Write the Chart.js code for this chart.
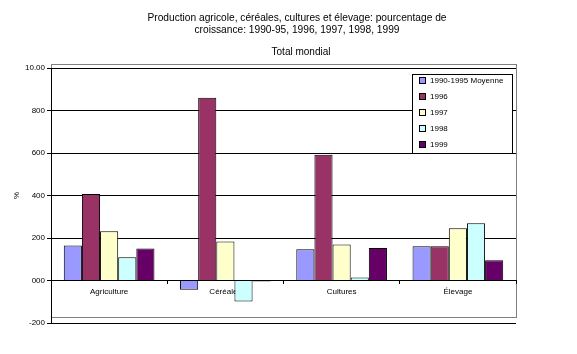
<!DOCTYPE html>
<html>
<head>
<meta charset="utf-8">
<script src="https://cdn.jsdelivr.net/npm/chart.js@4.4.0/dist/chart.umd.min.js"></script>
<style>
  html, body { margin: 0; padding: 0; background: #fff; }
  #wrap { width: 577px; height: 354px; position: relative; }
</style>
</head>
<body>
<div id="wrap"><canvas id="chart"></canvas></div>
<script>
const categories = ["Agriculture", "Céréales", "Cultures", "Élevage"];
const seriesNames = ["1990-1995 Moyenne", "1996", "1997", "1998", "1999"];
const avg9095 = [1.65, -0.43, 1.47, 1.61];
const y1996 = [4.07, 8.60, 5.92, 1.61];
const y1997 = [2.32, 1.84, 1.70, 2.46];
const y1998 = [1.10, -0.99, 0.14, 2.70];
const y1999 = [1.51, -0.05, 1.53, 0.95];
const tickValues = [-2, 0, 2, 4, 6, 8, 10];
const tickLabels = ["-200", "000", "200", "400", "600", "800", "10.00"];
const titleLines = ["Production agricole, céréales, cultures et élevage: pourcentage de",
  "croissance: 1990-95, 1996, 1997, 1998, 1999"];
const subTitle = "Total mondial";

const colors = ["#9999ff", "#993366", "#ffffcc", "#ccffff", "#660066"];
const values = [avg9095, y1996, y1997, y1998, y1999];
const font = "Liberation Sans, Arial, sans-serif";

// titles, grey frame and the boxed legend drawn on the canvas
const decor = {
  id: "decor",
  beforeDraw(chart) {
    const ctx = chart.ctx;
    const a = chart.chartArea;
    ctx.save();
    ctx.fillStyle = "#000";
    ctx.textAlign = "center";
    ctx.textBaseline = "middle";
    ctx.font = "10.2px " + font;
    ctx.fillText(titleLines[0], 297, 18);
    ctx.fillText(titleLines[1], 297, 30);
    ctx.font = "10px " + font;
    ctx.fillText(subTitle, 301, 52);
    ctx.strokeStyle = "#808080";
    ctx.lineWidth = 1;
    ctx.strokeRect(a.left + 0.5, a.top - 3.5, a.right - a.left, a.bottom - a.top - 2);
    ctx.restore();
  },
  afterDraw(chart) {
    const ctx = chart.ctx;
    ctx.save();
    const x = 412.5, y = 74.5, w = 100, h = 79;
    ctx.fillStyle = "#fff";
    ctx.fillRect(x, y, w, h);
    ctx.strokeStyle = "#000";
    ctx.lineWidth = 1;
    ctx.strokeRect(x, y, w, h);
    ctx.font = "8px " + font;
    ctx.textBaseline = "middle";
    ctx.textAlign = "left";
    chart.data.datasets.forEach((ds, i) => {
      const cy = 81 + i * 16;
      ctx.fillStyle = ds.backgroundColor;
      ctx.fillRect(419.5, cy - 3.5, 6, 6);
      ctx.strokeRect(419.5, cy - 3.5, 6, 6);
      ctx.fillStyle = "#000";
      ctx.fillText(ds.label, 430, cy);
    });
    ctx.restore();
  }
};

new Chart(document.getElementById("chart"), {
  type: "bar",
  data: {
    labels: categories,
    datasets: seriesNames.map((name, i) => ({
      label: name,
      data: values[i],
      backgroundColor: colors[i],
      borderColor: "#000",
      borderWidth: 1,
      categoryPercentage: 0.78,
      barPercentage: 1
    }))
  },
  options: {
    responsive: true,
    maintainAspectRatio: false,
    animation: false,
    layout: { padding: { left: 0, right: 61, top: 68, bottom: 31 } },
    plugins: {
      legend: { display: false },
      title: { display: false },
      tooltip: { enabled: false }
    },
    scales: {
      x: {
        position: { y: 0 },
        grid: { display: true, drawOnChartArea: false, drawTicks: true, tickLength: 3, color: "#000", offset: true },
        border: { color: "#000", width: 1 },
        ticks: { color: "#000", font: { size: 8, family: font }, padding: 3, maxRotation: 0 }
      },
      y: {
        min: -2,
        max: 10,
        afterFit(scale) { scale.width = 51; },
        afterBuildTicks(scale) { scale.ticks = tickValues.map(v => ({ value: v })); },
        grid: { color: "#000", lineWidth: 1, tickLength: 4 },
        border: { color: "#000", width: 1 },
        ticks: {
          color: "#000",
          font: { size: 8, family: font },
          padding: 2,
          callback: (v) => tickLabels[tickValues.indexOf(v)]
        },
        title: { display: true, text: "%", color: "#000", font: { size: 8, family: font }, padding: { top: 12, bottom: 0 } }
      }
    }
  },
  plugins: [decor]
});
</script>
</body>
</html>
